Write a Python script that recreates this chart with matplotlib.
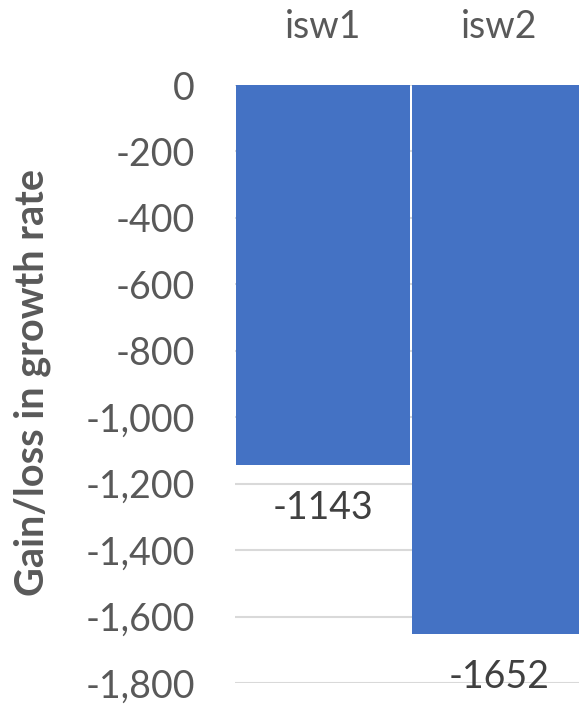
import matplotlib
matplotlib.use("Agg")
import matplotlib.pyplot as plt
from matplotlib.ticker import FuncFormatter, MultipleLocator

categories = ["isw1", "isw2"]
values = [-1143, -1652]
y_label = "Gain/loss in growth rate"

plt.rcParams['font.family'] = ['Lato', 'DejaVu Sans']

fig = plt.figure(figsize=(5.79, 7.08), dpi=100)
W, H = 579, 708
left, right, top, bottom = 235, 587, 85, 683
ax = fig.add_axes([left / W, 1 - bottom / H, (right - left) / W, (bottom - top) / H])

x = list(range(len(categories)))
bars = ax.bar(x, values, width=0.983, color="#4472C4", zorder=3)
ax.set_xlim(-0.5, len(categories) - 0.5)
ax.set_ylim(-1800, 0)
ax.yaxis.set_major_locator(MultipleLocator(200))
ax.yaxis.set_major_formatter(FuncFormatter(lambda v, p: f"{int(v):,}"))
ax.grid(axis="y", color="#D9D9D9", linewidth=1.5, zorder=0)
for s in ax.spines.values():
    s.set_visible(False)
ax.tick_params(axis="y", length=0, pad=29, labelsize=27, labelcolor="#595959")
ax.xaxis.tick_top()
ax.set_xticks(x)
ax.set_xticklabels(categories)
ax.tick_params(axis="x", length=0, pad=29, labelsize=27, labelcolor="#595959")

for xi, v in zip(x, values):
    ax.annotate(f"{v}", (xi, v), xytext=(0, -18), textcoords="offset points",
                ha="center", va="top", fontsize=27, color="#404040")

fig.text(32 / W, 1 - 383 / H, y_label, rotation=90, ha="center", va="center",
         fontsize=28.5, fontweight="bold", color="#595959")

fig.savefig("out.png", dpi=100)
